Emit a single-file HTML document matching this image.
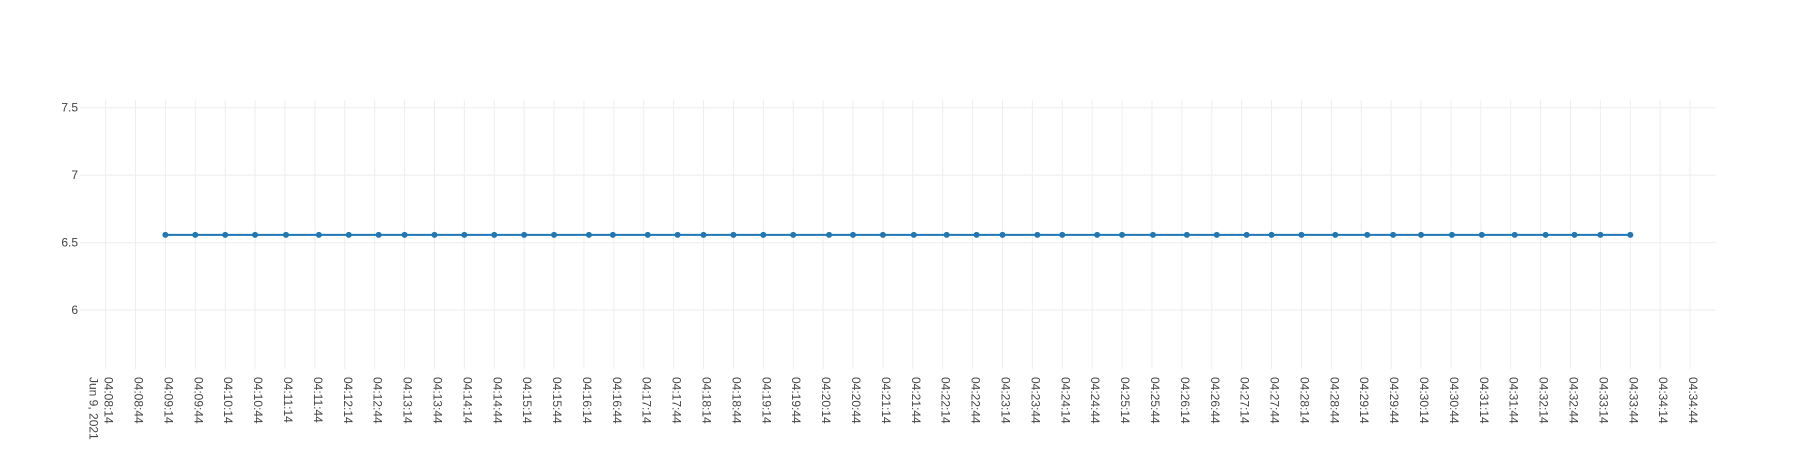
<!DOCTYPE html>
<html><head><meta charset="utf-8"><style>
html,body{margin:0;padding:0;background:#fff;}
svg{display:block;font-family:"Liberation Sans",sans-serif;}
</style></head><body>
<svg id="chart" width="1796" height="450">
<g id="grid"></g>
<g id="yaxis"></g>
<g id="xaxis"></g>
<g id="series"></g>
</svg>
<script>
// seconds since 04:08:14 on Jun 9, 2021
const pointTimes = [60,90,120,150,181,214,244,274,300,330,360,390,420,450,485,509,544,574,600,630,660,690,726,750,780,811,844,874,900,935,960,995,1020,1051,1085,1115,1145,1170,1200,1234,1266,1292,1320,1351,1381,1414,1445,1474,1500,1530];
const pointValues = pointTimes.map(()=>6.557);
const yTicks = [6,6.5,7,7.5];
const yTickLabels = ["6","6.5","7","7.5"];
const xTickSeconds = [];
for(let s=0;s<=1590;s+=30) xTickSeconds.push(s);

const L=80,R=1716,T=100,B=369;
const xDom=[-25.7,1616], yDom=[5.563,7.557];
const X=t=>L+(t-xDom[0])/(xDom[1]-xDom[0])*(R-L);
const Y=v=>B-(v-yDom[0])/(yDom[1]-yDom[0])*(B-T);
const NS="http://www.w3.org/2000/svg";
function mk(tag,attrs,parent){const e=document.createElementNS(NS,tag);for(const k in attrs)e.setAttribute(k,attrs[k]);parent.appendChild(e);return e;}
const grid=document.getElementById('grid'),ya=document.getElementById('yaxis'),xa=document.getElementById('xaxis'),se=document.getElementById('series');
function fmt(s){const base=4*3600+8*60+14+s;const h=Math.floor(base/3600),m=Math.floor(base%3600/60),sec=base%60;return String(h).padStart(2,'0')+':'+String(m).padStart(2,'0')+':'+String(sec).padStart(2,'0');}
yTicks.forEach((v,i)=>{
  const l=mk('line',{x1:L,x2:R,y1:Y(v),y2:Y(v),stroke:'#eee','stroke-width':1},grid);
  
  
  const t=mk('text',{x:L-2,y:Y(v)+4,'text-anchor':'end','font-size':12,fill:'#444'},ya);
  t.textContent=yTickLabels[i];
  
  
});
xTickSeconds.forEach((s,i)=>{
  const x=X(s);
  const l=mk('line',{x1:x,x2:x,y1:T,y2:B,stroke:'#eee','stroke-width':1},grid);
  
  
  const t=mk('text',{x:0,y:0,transform:`translate(${x-1},377) rotate(90)`,'font-size':12,fill:'#444'},xa);
  t.textContent=fmt(s);
  
  
  if(i===0){
    const d=mk('text',{x:0,y:0,transform:`translate(${x-16},377) rotate(90)`,'font-size':12,fill:'#444'},xa);
    d.textContent='Jun 9, 2021';
    
    
  }
});
const pts=pointTimes.map((t,i)=>X(t)+','+Y(pointValues[i])).join(' ');
const pl=mk('polyline',{points:pts,fill:'none',stroke:'#1f77b4','stroke-width':2},se);


pointTimes.forEach((t,i)=>{
  const c=mk('circle',{cx:X(t),cy:Y(pointValues[i]),r:3,fill:'#1f77b4'},se);
  
  
});
</script>
</body></html>
